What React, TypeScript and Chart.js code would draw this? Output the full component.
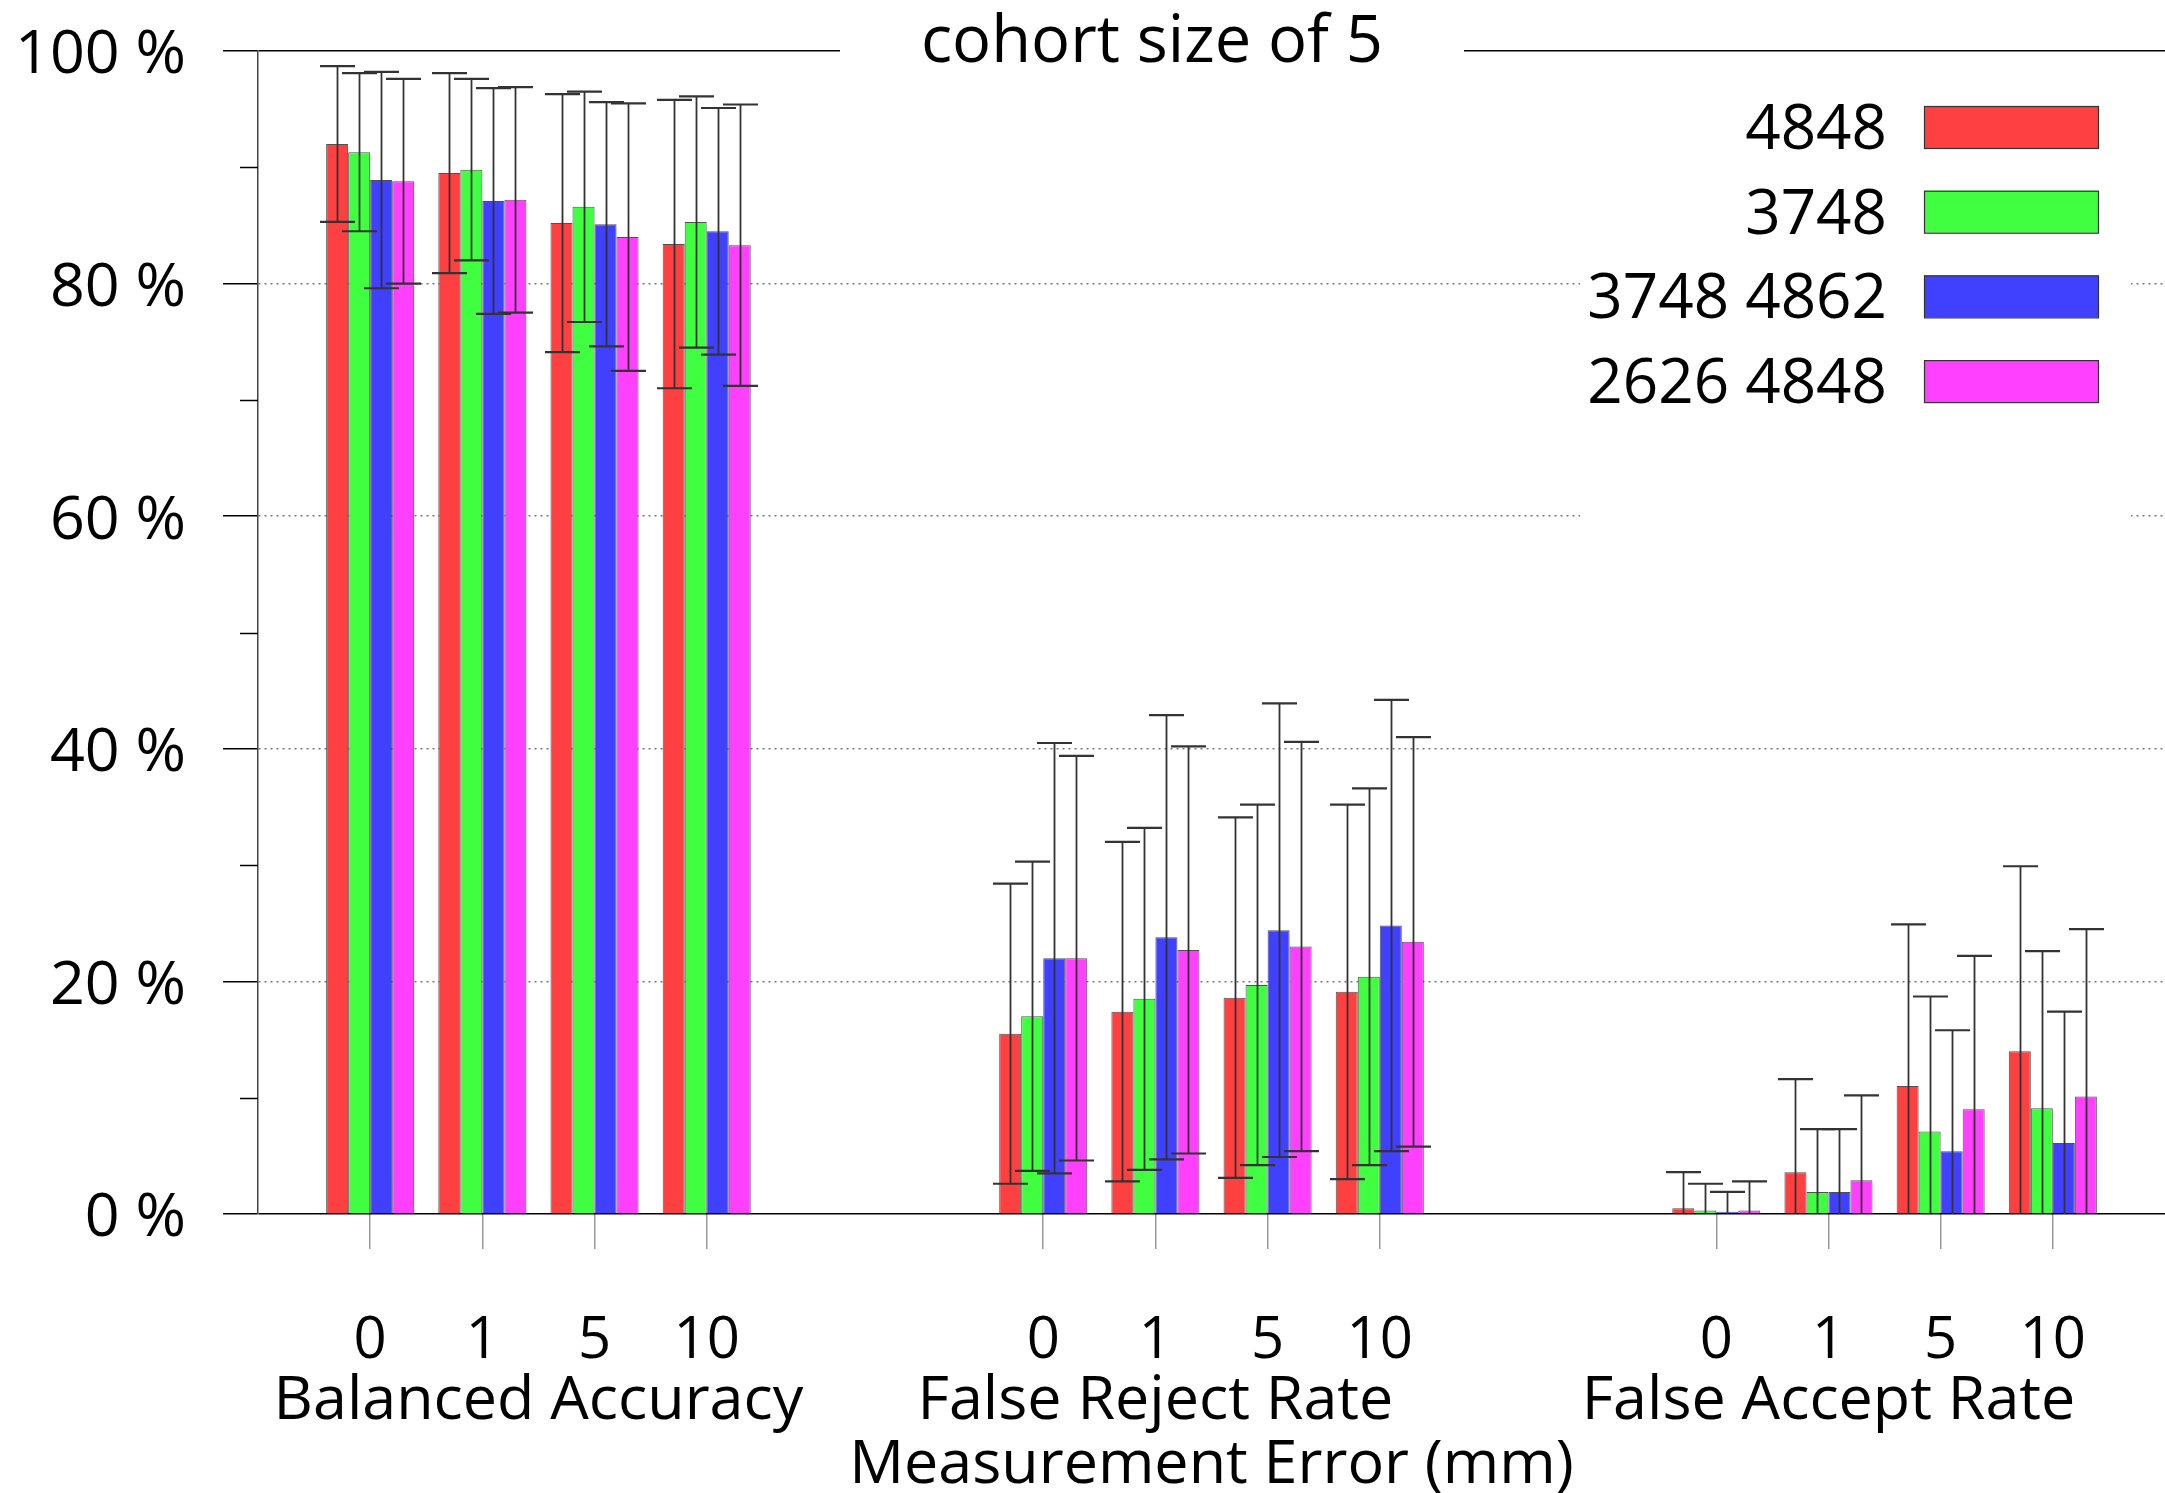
import React, { useEffect, useRef } from 'react';
import { Chart, registerables } from 'chart.js';

Chart.register(...registerables);

// ---------- data ----------
const chartTitle = 'cohort size of 5';
const categories = ['0', '1', '5', '10'];
const groupNames = ['Balanced Accuracy', 'False Reject Rate', 'False Accept Rate'];
const axisTitle = 'Measurement Error (mm)';
const seriesNames = ['4848', '3748', '3748 4862', '2626 4848'];
const seriesColors = ['#ff4040', '#40ff40', '#4040ff', '#ff40ff'];

// order: BA 0,1,5,10 | FRR 0,1,5,10 | FAR 0,1,5,10  (percent)
const mean4848 = [92.0, 89.5, 85.2, 83.4, 15.5, 17.4, 18.6, 19.1, 0.5, 3.6, 11.0, 14.0];
const sd4848 = [6.7, 8.6, 11.1, 12.4, 12.9, 14.6, 15.5, 16.1, 3.1, 8.0, 13.9, 15.9];
const mean3748 = [91.3, 89.8, 86.6, 85.3, 17.0, 18.5, 19.7, 20.4, 0.3, 1.9, 7.1, 9.1];
const sd3748 = [6.8, 7.8, 9.9, 10.8, 13.3, 14.7, 15.5, 16.2, 2.3, 5.4, 11.6, 13.5];
const mean3748_4862 = [88.9, 87.1, 85.1, 84.5, 22.0, 23.8, 24.4, 24.8, 0.2, 1.9, 5.4, 6.1];
const sd3748_4862 = [9.3, 9.7, 10.5, 10.6, 18.5, 19.1, 19.5, 19.4, 1.7, 5.4, 10.4, 11.3];
const mean2626_4848 = [88.8, 87.2, 84.0, 83.3, 22.0, 22.7, 23.0, 23.4, 0.3, 2.9, 9.0, 10.1];
const sd2626_4848 = [8.8, 9.7, 11.5, 12.1, 17.4, 17.5, 17.6, 17.6, 2.5, 7.3, 13.2, 14.4];

const seriesMeans = [mean4848, mean3748, mean3748_4862, mean2626_4848];
const seriesSds = [sd4848, sd3748, sd3748_4862, sd2626_4848];

const yTickStep = 20;
const yMinorStep = 10;

// ---------- layout helpers ----------
const slotsPerGroup = 6; // 4 categories + 2 empty slots between groups
const groupLabelSlots = [1.5, 7, 13];
const slotOf = (k: number) => Math.floor(k / categories.length) * slotsPerGroup + (k % categories.length);
const tickSlots = groupNames.flatMap((_, g) => categories.map((__, c) => g * slotsPerGroup + c));

const FONT = "'Open Sans', sans-serif";

const line = (ctx: CanvasRenderingContext2D, x1: number, y1: number, x2: number, y2: number) => {
  ctx.beginPath();
  ctx.moveTo(x1, y1);
  ctx.lineTo(x2, y2);
  ctx.stroke();
};

const errorBarPlugin = {
  id: 'errorBars',
  afterDatasetsDraw(chart: any) {
    const { ctx, chartArea: a, scales } = chart;
    const y = scales.y;
    ctx.save();
    ctx.beginPath();
    ctx.rect(a.left, a.top - 30, a.right - a.left, a.bottom - a.top + 30);
    ctx.clip();
    ctx.strokeStyle = '#333';
    seriesMeans.forEach((means, si) => {
      const meta = chart.getDatasetMeta(si);
      meta.data.forEach((el: any, k: number) => {
        const m = means[k];
        const sd = seriesSds[si][k];
        const x = Math.round(el.x) + 0.5;
        const hi = m + sd;
        const lo = m - sd;
        const yHi = y.getPixelForValue(hi);
        const yLo = y.getPixelForValue(Math.max(lo, 0));
        ctx.lineWidth = 1.8;
        line(ctx, x, yHi, x, yLo);
        ctx.lineWidth = 2.2;
        line(ctx, x - 17.5, yHi, x + 17.5, yHi);
        if (lo > 0) line(ctx, x - 17.5, yLo, x + 17.5, yLo);
      });
    });
    ctx.restore();
  },
};

const decorPlugin = {
  id: 'decor',
  afterDraw(chart: any) {
    const { ctx, chartArea: a, scales } = chart;
    const x = scales.x;
    const y = scales.y;
    ctx.save();

    // minor y ticks
    ctx.strokeStyle = '#000';
    ctx.lineWidth = 1.5;
    for (let v = yMinorStep; v < 100; v += yTickStep) {
      const py = Math.round(y.getPixelForValue(v)) + 0.5;
      line(ctx, a.left - 18, py, a.left, py);
    }

    // group labels and axis title
    ctx.fillStyle = '#000';
    ctx.textAlign = 'center';
    ctx.textBaseline = 'alphabetic';
    ctx.font = `61px ${FONT}`;
    groupNames.forEach((n, i) => {
      ctx.fillText(n, x.getPixelForValue(groupLabelSlots[i]), a.bottom + 205);
    });
    ctx.fillText(axisTitle, (a.left + a.right) / 2, a.bottom + 269);

    // title with white box over the top border
    const tx = a.left + 894;
    ctx.fillStyle = '#fff';
    ctx.fillRect(tx - 312, 0, 624, a.top + 14);
    ctx.fillStyle = '#000';
    ctx.font = `65px ${FONT}`;
    ctx.fillText(chartTitle, tx, a.top + 11);

    // legend (key) with white background
    ctx.fillStyle = '#fff';
    ctx.fillRect(a.right - 585, a.top + 8, 551, 480);
    ctx.font = `62px ${FONT}`;
    ctx.textAlign = 'right';
    seriesNames.forEach((n, i) => {
      const top = a.top + 55 + i * 84.7;
      ctx.fillStyle = seriesColors[i];
      ctx.fillRect(a.right - 241, top, 174, 42);
      ctx.strokeStyle = '#333';
      ctx.lineWidth = 1.2;
      ctx.strokeRect(a.right - 241 + 0.5, top + 0.5, 174, 42);
      ctx.fillStyle = '#000';
      ctx.fillText(n, a.right - 278, top + 43);
    });

    ctx.restore();
  },
};

export default function App() {
  const ref = useRef<HTMLCanvasElement | null>(null);

  useEffect(() => {
    document.body.style.margin = '0';
    const datasets = seriesNames.map((name, si) => ({
      label: name,
      data: seriesMeans[si].map((v, k) => ({ x: slotOf(k), y: v })),
      backgroundColor: seriesColors[si],
      borderColor: 'rgba(50,50,50,0.85)',
      borderWidth: 1,
      categoryPercentage: 0.785,
      barPercentage: 1.0,
    }));

    const chart = new Chart(ref.current as HTMLCanvasElement, {
      type: 'bar',
      data: { datasets },
      plugins: [errorBarPlugin, decorPlugin],
      options: {
        responsive: false,
        animation: false,
        devicePixelRatio: 1,
        layout: { padding: { top: 51, left: 0, right: 0, bottom: 0 } },
        plugins: {
          legend: { display: false },
          title: { display: false },
          tooltip: { enabled: false },
        },
        scales: {
          x: {
            type: 'linear',
            min: -1,
            max: slotsPerGroup * groupNames.length - 2,
            offset: false,
            afterBuildTicks: (s: any) => {
              s.ticks = tickSlots.map((v) => ({ value: v }));
            },
            afterFit: (s: any) => {
              s.height = 279;
              s.paddingLeft = 0;
              s.paddingRight = 0;
            },
            ticks: {
              autoSkip: false,
              maxRotation: 0,
              minRotation: 0,
              padding: 58,
              color: '#000',
              font: { family: FONT, size: 58 },
              callback: (v: any) => categories[Number(v) % slotsPerGroup] ?? '',
            },
            grid: {
              offset: false,
              drawOnChartArea: false,
              drawTicks: true,
              tickLength: 35,
              color: '#999',
              tickColor: '#999',
              lineWidth: 1.5,
              tickWidth: 1.5,
            },
            border: { display: false },
          },
          y: {
            min: 0,
            max: 100,
            afterFit: (s: any) => {
              s.width = 258;
              s.paddingTop = 0;
              s.paddingBottom = 0;
            },
            ticks: {
              stepSize: yTickStep,
              padding: 37,
              labelOffset: 5,
              color: '#000',
              font: { family: FONT, size: 61 },
              callback: (v: any) => `${v} %`,
            },
            grid: {
              drawTicks: true,
              tickLength: 35,
              color: (c: any) => (c.tick && (c.tick.value === 0 || c.tick.value === 100) ? '#000' : '#777'),
              lineWidth: 1.5,
              tickColor: '#000',
              tickWidth: 1.5,
              tickBorderDash: [],
            },
            border: {
              display: true,
              color: '#444',
              width: 1.5,
              dash: (c: any) => (c.tick && c.tick.value > 0 && c.tick.value < 100 ? [2, 4] : []),
            },
          },
        },
      } as any,
    });
    return () => chart.destroy();
  }, []);

  return (
    <div style={{ width: 2165, height: 1493, background: '#fff' }}>
      <canvas ref={ref} width={2165} height={1493} style={{ display: 'block' }} />
    </div>
  );
}
